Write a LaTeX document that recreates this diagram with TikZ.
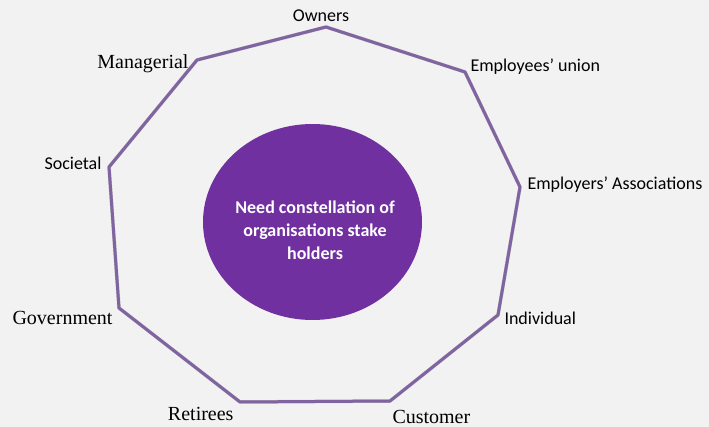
\documentclass[tikz,border=0pt]{standalone}
\usepackage{xcolor}
\usepackage{fontspec}
\setmainfont{Liberation Serif}
\newfontfamily\stakefont{Carlito}
\usepackage{tikz}
\usetikzlibrary{calc, positioning, shapes.geometric}
\definecolor{BackgroundColour}{HTML}{F2F2F2}
\definecolor{Accent4}{HTML}{8064A2}
\definecolor{Accent4_1}{HTML}{7030A0}
\colorlet{Purple}{Accent4}
\colorlet{Purple_1}{Accent4_1}
\tikzset{
    sanslabel/.style  = {inner sep = 0pt, font = \stakefont\fontsize{18}{22}\selectfont},
    seriflabel/.style = {inner sep = 0pt, font = \fontsize{20}{24}\selectfont},
}

\begin{document}
\begin{tikzpicture}[x = 1pt, y = -1pt, line join = round, line cap = round, line width = 3pt]

    \path[fill = BackgroundColour] (0, 0) rectangle (709, 427);
    \useasboundingbox (0, 0) rectangle (709, 427);

    % corners of the outline
    \coordinate (owners)       at (326,  27);
    \coordinate (union)        at (465,  72);
    \coordinate (associations) at (520, 187);
    \coordinate (individual)   at (498, 315);
    \coordinate (customer)     at (390, 401);
    \coordinate (retirees)     at (240, 402);
    \coordinate (government)   at (119, 308);
    \coordinate (societal)     at (109, 167);
    \coordinate (managerial)   at (197,  60);

    \path[draw = black!25, line width = 3.5pt, shift = {(1.5, 1.5)}]
                                                   (owners) -- (union) -- (associations) -- (individual) -- (customer)
                                                -- (retirees) -- (government) -- (societal) -- (managerial) -- cycle;
    \path[draw = Purple]                           (owners) -- (union) -- (associations) -- (individual) -- (customer)
                                                -- (retirees) -- (government) -- (societal) -- (managerial) -- cycle;

    \node[ellipse, fill = Purple_1, minimum width = 219pt, minimum height = 196pt, inner sep = 0pt] (need) at (312.5, 222) {};
    \node[align = center, text = white, font = \stakefont\bfseries\fontsize{18}{23}\selectfont] (needtext) at (315, 230)
        {Need constellation of\\organisations stake\\holders};

    \node[sanslabel,  anchor = base]      (ownerslabel)       at (321,  22) {Owners};
    \node[sanslabel,  anchor = base west] (unionlabel)        at (469,  72) {Employees’ union};
    \node[sanslabel,  anchor = base west] (associationslabel) at (526, 190) {Employers’ Associations};
    \node[sanslabel,  anchor = base west] (individuallabel)   at (503, 325) {Individual};
    \node[seriflabel, anchor = base west] (customerlabel)     at (391, 423) {Customer};
    \node[seriflabel, anchor = base east] (retireeslabel)     at (235, 420) {Retirees};
    \node[seriflabel, anchor = base east] (governmentlabel)   at (114, 324) {Government};
    \node[sanslabel,  anchor = base east] (societallabel)     at (103, 170) {Societal};
    \node[seriflabel, anchor = base east] (manageriallabel)   at (190,  69) {Managerial};
\end{tikzpicture}
\end{document}
